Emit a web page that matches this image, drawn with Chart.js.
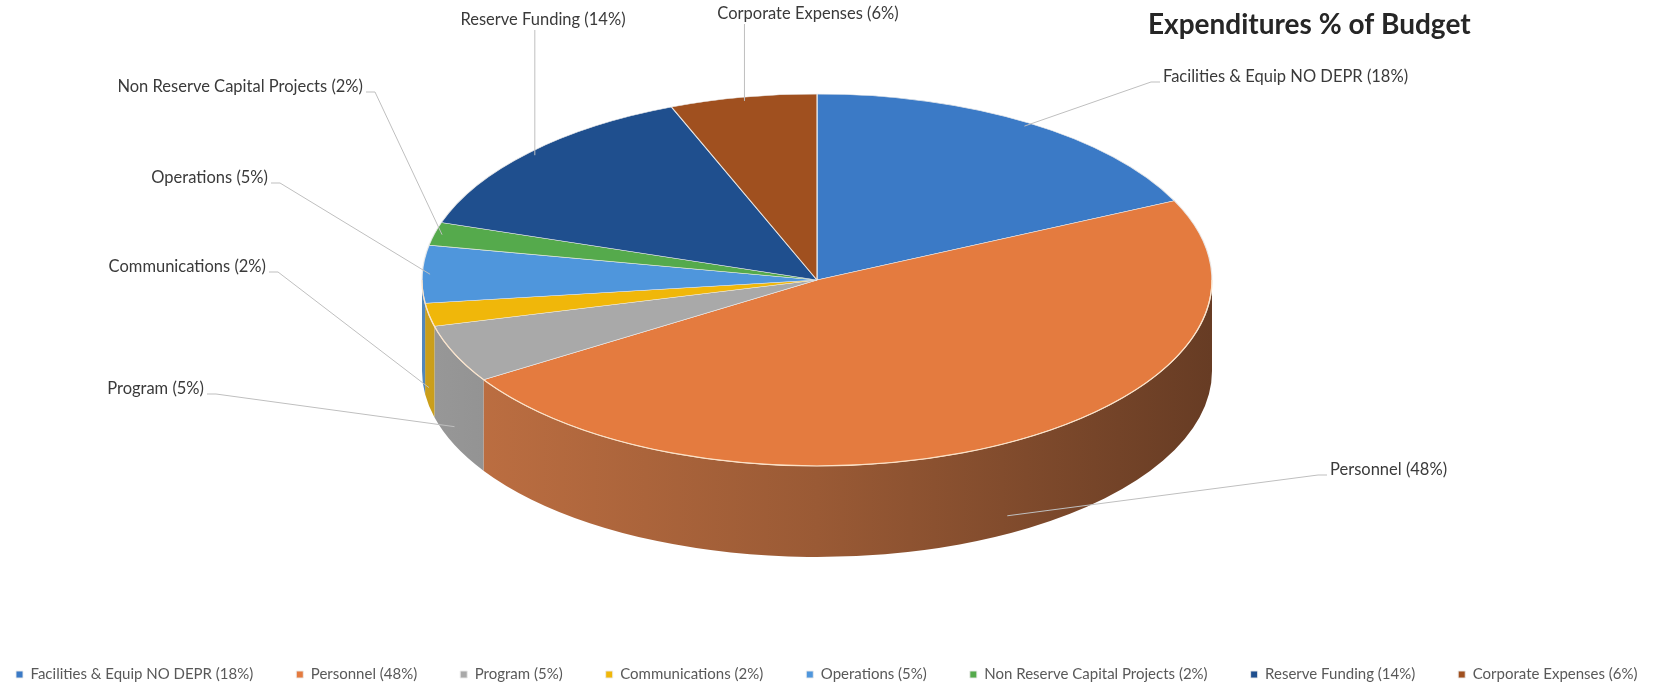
<!DOCTYPE html>
<html>
<head>
<meta charset="utf-8">
<title>Expenditures % of Budget</title>
<script src="https://cdn.jsdelivr.net/npm/chart.js@4.4.1/dist/chart.umd.min.js"></script>
<style>
  html, body { margin: 0; padding: 0; background: #fff; overflow: hidden; }
  #wrap { position: relative; width: 1860px; height: 692px; }
</style>
</head>
<body>
<div id="wrap"><canvas id="budgetChart"></canvas></div>
<script>
const categories = ['Facilities & Equip NO DEPR', 'Personnel', 'Program', 'Communications', 'Operations', 'Non Reserve Capital Projects', 'Reserve Funding', 'Corporate Expenses'];
const percents = [18, 48, 5, 2, 5, 2, 14, 6];
const sliceColors = ['#3b7ac6', '#e47b3f', '#a9a9a9', '#f0b70a', '#4f96dc', '#55aa4c', '#1f4f8e', '#a0501f'];

// data label placement: x, y of the text and which side the leader line meets it
const labelSpots = [
  [1163, 77, 'left'],
  [1330, 470, 'left'],
  [204, 389, 'right'],
  [266, 267, 'right'],
  [268, 178, 'right'],
  [363, 87, 'right'],
  [543, 20, 'top'],
  [808, 14, 'top']
];

// the tilted disc the pie is laid onto
const disc = { cx: 817, cy: 280, rx: 395, ry: 186, depth: 91 };

const labels = categories.map((c, i) => `${c} (${percents[i]}%)`);

function shade(hex, f) {
  const n = parseInt(hex.slice(1), 16);
  const r = n >> 16, g = (n >> 8) & 255, b = n & 255;
  const avg = (r + g + b) / 3;
  const mix = v => Math.round(f * (0.85 * v + 0.15 * avg));
  return `rgb(${mix(r)}, ${mix(g)}, ${mix(b)})`;
}

// where a slice's leader line touches the disc
function anchorFor(arc) {
  const mid = (arc.startAngle + arc.endAngle) / 2;
  const s = Math.sin(mid);
  const k = s > 0 ? 1 : 0.98;
  let x = disc.cx + disc.rx * Math.cos(mid) * k;
  let y = disc.cy + disc.ry * s * k;
  if (s > 0) y += disc.depth * 0.8;
  return { x, y };
}

const tiltPlugin = {
  id: 'tilt',
  beforeDatasetsDraw(chart) {
    const ctx = chart.ctx;
    const arcs = chart.getDatasetMeta(0).data;
    const { cx, cy, rx, ry, depth } = disc;

    // side wall, only the front half shows
    arcs.forEach((arc, i) => {
      const a = Math.max(arc.startAngle, 0);
      const b = Math.min(arc.endAngle, Math.PI);
      if (a >= b) return;
      const g = ctx.createLinearGradient(cx - rx, 0, cx + rx, 0);
      g.addColorStop(0, shade(sliceColors[i], 0.9));
      g.addColorStop(0.5, shade(sliceColors[i], 0.72));
      g.addColorStop(1, shade(sliceColors[i], 0.48));
      ctx.beginPath();
      ctx.ellipse(cx, cy, rx, ry, 0, a, b);
      ctx.ellipse(cx, cy + depth, rx, ry, 0, b, a, true);
      ctx.closePath();
      ctx.fillStyle = g;
      ctx.fill();
    });

    // squash the round pie onto the top face
    const first = arcs[0];
    const r = first.outerRadius;
    ctx.save();
    ctx.translate(cx, cy);
    ctx.scale(rx / r, ry / r);
    ctx.translate(-first.x, -first.y);
  },
  afterDatasetsDraw(chart) {
    const ctx = chart.ctx;
    ctx.restore();
    const { cx, cy, rx, ry } = disc;
    ctx.beginPath();
    ctx.ellipse(cx, cy, rx, ry, 0, 0, Math.PI);
    ctx.strokeStyle = 'rgba(255, 228, 200, 0.9)';
    ctx.lineWidth = 1.2;
    ctx.stroke();
  },
  afterDraw(chart) {
    const ctx = chart.ctx;
    const arcs = chart.getDatasetMeta(0).data;
    ctx.save();
    ctx.font = '16.5px Lato';
    ctx.textBaseline = 'middle';
    ctx.strokeStyle = '#bfbfbf';
    ctx.lineWidth = 1;
    arcs.forEach((arc, i) => {
      const [tx, ty, side] = labelSpots[i];
      const p = anchorFor(arc);
      ctx.beginPath();
      if (side === 'top') {
        ctx.moveTo(p.x, ty + 10);
        ctx.lineTo(p.x, p.y);
        ctx.textAlign = 'center';
      } else if (side === 'left') {
        ctx.moveTo(tx - 3, ty + 5);
        ctx.lineTo(tx - 12, ty + 5);
        ctx.lineTo(p.x, p.y);
        ctx.textAlign = 'left';
      } else {
        ctx.moveTo(tx + 3, ty + 5);
        ctx.lineTo(tx + 12, ty + 5);
        ctx.lineTo(p.x, p.y);
        ctx.textAlign = 'right';
      }
      ctx.stroke();
      ctx.fillStyle = '#3a3a3a';
      ctx.fillText(labels[i], tx, ty);
    });

    ctx.font = 'bold 28px Lato';
    ctx.textAlign = 'left';
    ctx.fillStyle = '#262626';
    ctx.fillText('Expenditures % of Budget', 1148, 25);
    ctx.restore();
  }
};

new Chart(document.getElementById('budgetChart'), {
  type: 'pie',
  data: {
    labels: labels,
    datasets: [{
      data: percents,
      backgroundColor: sliceColors,
      borderColor: 'rgba(235, 235, 235, 0.9)',
      borderWidth: 1,
      clip: false
    }]
  },
  options: {
    responsive: true,
    maintainAspectRatio: false,
    animation: false,
    events: [],
    layout: { padding: { left: -27 } },
    plugins: {
      legend: {
        position: 'bottom',
        align: 'start',
        labels: {
          usePointStyle: true,
          pointStyle: 'rect',
          boxWidth: 7,
          boxHeight: 7,
          padding: 43,
          color: '#595959',
          font: { family: 'Lato', size: 15 }
        }
      },
      tooltip: { enabled: false }
    }
  },
  plugins: [tiltPlugin]
});
</script>
</body>
</html>
